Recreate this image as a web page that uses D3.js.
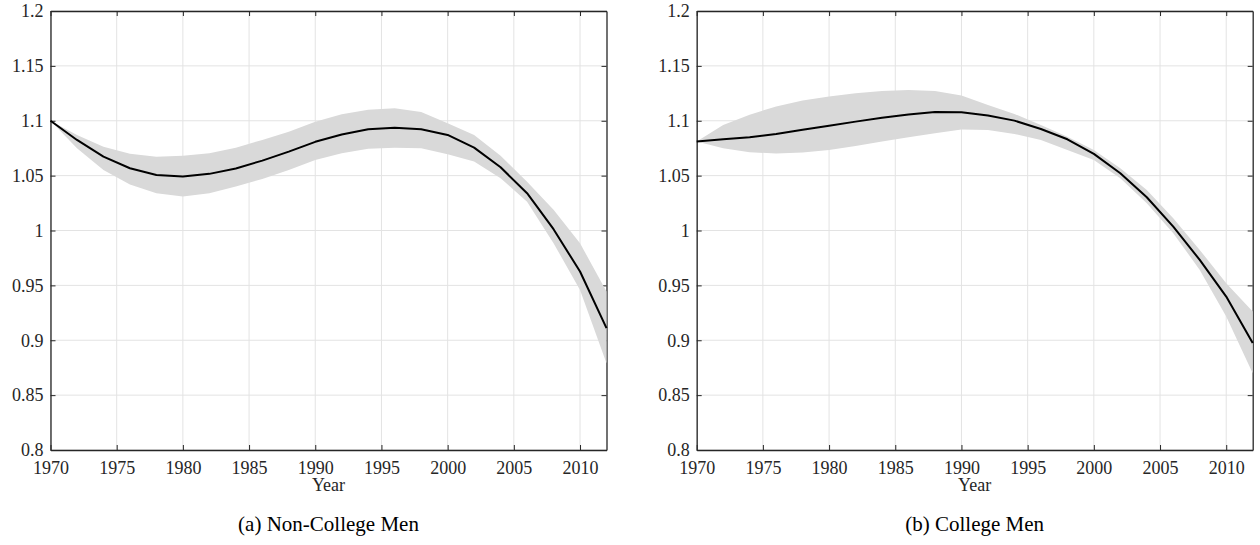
<!DOCTYPE html>
<html>
<head>
<meta charset="utf-8">
<script src="https://cdn.jsdelivr.net/npm/d3@7"></script>
<style>
  html, body { margin: 0; padding: 0; background: #fff; }
  svg { display: block; }
  text { font-family: "Liberation Serif", "Times New Roman", Times, serif; }
</style>
</head>
<body>
<svg id="chart" width="1260" height="545"></svg>
<script>
// ---------- data ----------
const years = [1970,1972,1974,1976,1978,1980,1982,1984,1986,1988,1990,1992,1994,1996,1998,2000,2002,2004,2006,2008,2010,2012];

const nonCollegeMean  = [1.100,1.0825,1.0673,1.0567,1.0506,1.0491,1.0516,1.0565,1.0637,1.0719,1.0808,1.0875,1.0923,1.0937,1.0923,1.0871,1.0755,1.0576,1.0340,1.0012,0.9626,0.911];
const nonCollegeUpper = [1.100,1.087,1.0764,1.0700,1.0673,1.0680,1.0704,1.0755,1.0825,1.0900,1.0992,1.1060,1.1100,1.1114,1.1080,1.0977,1.0871,1.0682,1.0445,1.0188,0.9884,0.9444];
const nonCollegeLower = [1.100,1.075,1.0552,1.0420,1.0340,1.0309,1.0340,1.0400,1.0470,1.0552,1.0643,1.0705,1.0745,1.0755,1.0749,1.0695,1.0628,1.0476,1.0263,0.9884,0.9459,0.879];

const collegeMean  = [1.081,1.0832,1.0850,1.0880,1.0918,1.0955,1.0992,1.1028,1.1058,1.1080,1.1077,1.1047,1.1001,1.0925,1.0831,1.0698,1.0522,1.0303,1.0036,0.9732,0.9398,0.8974];
const collegeUpper = [1.081,1.0962,1.1055,1.1130,1.1185,1.1222,1.1250,1.1270,1.1280,1.1270,1.1230,1.1144,1.1062,1.0962,1.0855,1.0734,1.0567,1.0370,1.0112,0.9823,0.9520,0.9261];
const collegeLower = [1.081,1.0750,1.0712,1.0702,1.0710,1.0734,1.0770,1.0810,1.0850,1.0885,1.0920,1.0916,1.0880,1.0825,1.0734,1.0643,1.0476,1.0249,0.9975,0.9641,0.9216,0.8700];

const xTicks = [1970,1975,1980,1985,1990,1995,2000,2005,2010];
const yTicks = [0.8,0.85,0.9,0.95,1.0,1.05,1.1,1.15,1.2];
const xDomain = [1970, 2012];
const yDomain = [0.8, 1.2];
const xLabel = "Year";
const captions = ["(a) Non-College Men", "(b) College Men"];

// ---------- layout ----------
const svg = d3.select("#chart");
const plotTop = 11, plotBottom = 450;
const panels = [
  {x0: 50.5, x1: 606.5, mean: nonCollegeMean, upper: nonCollegeUpper, lower: nonCollegeLower, caption: captions[0]},
  {x0: 696.7, x1: 1252.7, mean: collegeMean, upper: collegeUpper, lower: collegeLower, caption: captions[1]}
];

const axisColor = "#262626";
const fontStack = "'Liberation Serif','Times New Roman',Times,serif";
const fmtY = d => String(+d.toFixed(2));

panels.forEach(p => {
  const x = d3.scaleLinear().domain(xDomain).range([p.x0, p.x1]);
  const y = d3.scaleLinear().domain(yDomain).range([plotBottom, plotTop]);
  const g = svg.append("g");

  // grid
  g.append("g").selectAll("line").data(xTicks).join("line")
    .attr("x1", d => x(d)).attr("x2", d => x(d))
    .attr("y1", plotTop).attr("y2", plotBottom)
    .attr("stroke", "#e3e3e3").attr("stroke-width", 1);
  g.append("g").selectAll("line").data(yTicks).join("line")
    .attr("x1", p.x0).attr("x2", p.x1)
    .attr("y1", d => y(d)).attr("y2", d => y(d))
    .attr("stroke", "#e3e3e3").attr("stroke-width", 1);

  // axes (box, inward ticks)
  const styleAxis = sel => {
    sel.attr("font-family", null).attr("font-size", null);
    sel.select(".domain").attr("stroke", axisColor).attr("stroke-width", 1.3);
    sel.selectAll(".tick line").attr("stroke", axisColor).attr("stroke-width", 1);
    sel.selectAll("text").attr("fill", axisColor).style("font-size", "18px")
      .style("font-family", fontStack);
  };
  g.append("g").attr("transform", `translate(0,${plotBottom})`)
    .call(d3.axisBottom(x).tickValues(xTicks).tickFormat(d3.format("d")).tickSizeInner(-5).tickSizeOuter(0).tickPadding(11))
    .call(styleAxis);
  g.append("g").attr("transform", `translate(0,${plotTop})`)
    .call(d3.axisTop(x).tickValues(xTicks).tickFormat("").tickSizeInner(-5).tickSizeOuter(0))
    .call(styleAxis);
  g.append("g").attr("transform", `translate(${p.x0},0)`)
    .call(d3.axisLeft(y).tickValues(yTicks).tickFormat(fmtY).tickSizeInner(-5).tickSizeOuter(0).tickPadding(7))
    .call(styleAxis);
  g.append("g").attr("transform", `translate(${p.x1},0)`)
    .call(d3.axisRight(y).tickValues(yTicks).tickFormat("").tickSizeInner(-5).tickSizeOuter(0))
    .call(styleAxis);

  // confidence band
  const area = d3.area()
    .x((d, i) => x(years[i]))
    .y0((d, i) => y(p.lower[i]))
    .y1((d, i) => y(p.upper[i]));
  g.append("path").datum(years).attr("d", area).attr("fill", "#d9d9d9").attr("stroke", "none");

  // mean line
  const line = d3.line().x((d, i) => x(years[i])).y(d => y(d));
  g.append("path").datum(p.mean).attr("d", line)
    .attr("fill", "none").attr("stroke", "#000").attr("stroke-width", 2)
    .attr("stroke-linejoin", "round");

  // x label
  g.append("text").attr("x", (p.x0 + p.x1) / 2).attr("y", 491)
    .attr("text-anchor", "middle").attr("fill", axisColor)
    .style("font-size", "18px").style("font-family", fontStack).text(xLabel);

  // caption
  g.append("text").attr("x", (p.x0 + p.x1) / 2).attr("y", 531)
    .attr("text-anchor", "middle").attr("fill", "#000")
    .style("font-size", "21px").style("font-family", fontStack).text(p.caption);
});
</script>
</body>
</html>
